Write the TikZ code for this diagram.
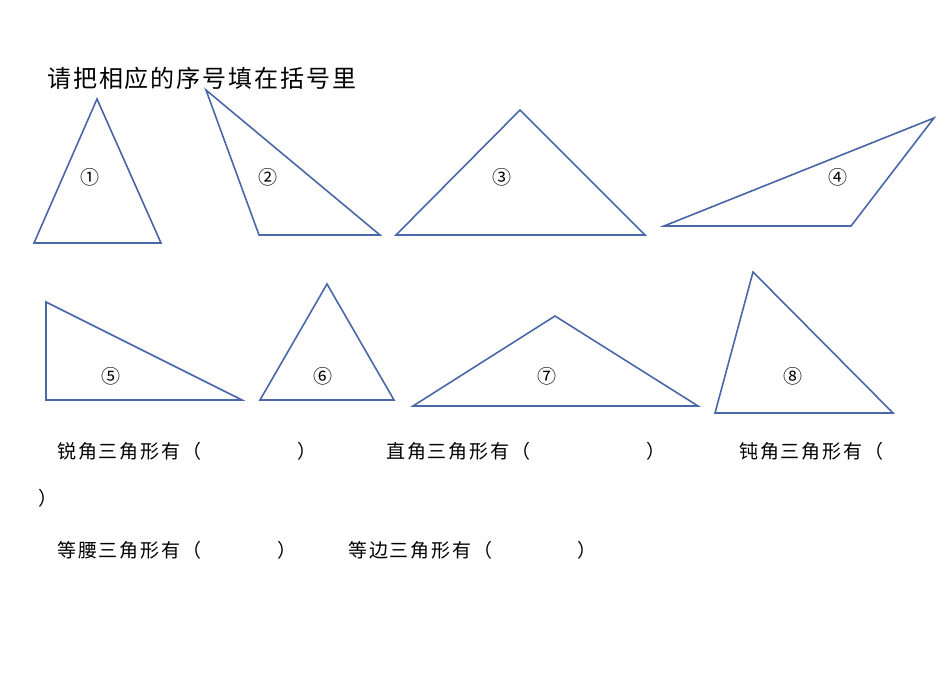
\documentclass[tikz,border=0pt]{standalone}
\usepackage{fontspec}
\setmainfont{Noto Sans CJK SC}
\definecolor{tri}{HTML}{4A67A8}
\begin{document}
\begin{tikzpicture}[x=1pt,y=-1pt,
  tr/.style={draw=tri,line width=1.6pt,line join=miter},
  num/.style={font=\fontsize{19}{19}\selectfont},
  lbl/.style={anchor=west,inner sep=0,font=\fontsize{19}{19}\selectfont\addfontfeature{LetterSpace=10}}]
\useasboundingbox (0,0) rectangle (950,675);
\node[anchor=west,inner sep=0,font=\fontsize{24}{24}\selectfont\addfontfeature{LetterSpace=8}] (title) at (47,78) {请把相应的序号填在括号里};
\draw[tr] (97,99) -- (34,243) -- (161,243) -- cycle;
\draw[tr] (206,90) -- (259,235) -- (380,235) -- cycle;
\draw[tr] (520,110) -- (396,235) -- (645,235) -- cycle;
\draw[tr] (934,118) -- (664,226) -- (851,226) -- cycle;
\draw[tr] (46,302) -- (46,400) -- (242,400) -- cycle;
\draw[tr] (327,284) -- (260,400) -- (394,400) -- cycle;
\draw[tr] (555,316) -- (413,406) -- (698,406) -- cycle;
\draw[tr] (753,272) -- (715,413) -- (893,413) -- cycle;
\node[num] (n1) at (90,177) {①};
\node[num] (n2) at (268,177) {②};
\node[num] (n3) at (502,177) {③};
\node[num] (n4) at (838,177) {④};
\node[num] (n5) at (111,376) {⑤};
\node[num] (n6) at (323,376) {⑥};
\node[num] (n7) at (547,376) {⑦};
\node[num] (n8) at (793,376) {⑧};
\node[lbl] (a1) at (57,451) {锐角三角形有（};
\node[lbl] (a2) at (297,451) {）};
\node[lbl] (b1) at (386,451) {直角三角形有（};
\node[lbl] (b2) at (646,451) {）};
\node[lbl] (c1) at (739,451) {钝角三角形有（};
\node[lbl] (c2) at (38,498) {）};
\node[lbl] (d1) at (57,550) {等腰三角形有（};
\node[lbl] (d2) at (277,550) {）};
\node[lbl] (e1) at (348,550) {等边三角形有（};
\node[lbl] (e2) at (577,550) {）};
\end{tikzpicture}
\end{document}
